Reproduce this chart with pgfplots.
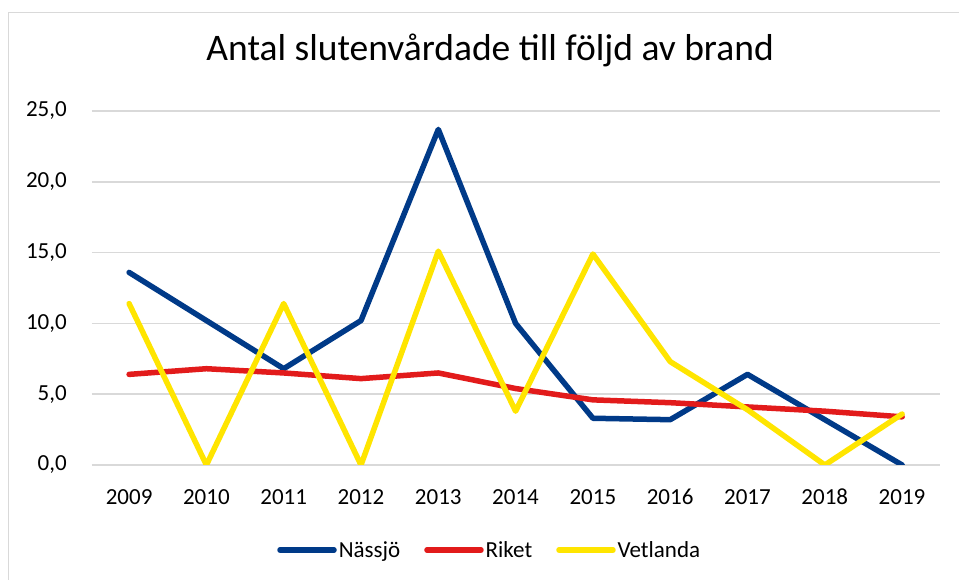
\documentclass[border=0pt]{standalone}
\usepackage{pgfplots}
\pgfplotsset{compat=1.18}
\usepackage{fontspec}
\setmainfont{Carlito}
\definecolor{nassjo}{HTML}{003A88}
\definecolor{riket}{HTML}{E21B1B}
\definecolor{vetl}{HTML}{FFE500}
\definecolor{gridc}{HTML}{D9D9D9}
\begin{document}
\begin{tikzpicture}[x=1pt,y=1pt]
\useasboundingbox (0,0) rectangle (959,580);
\fill[white] (0,0) rectangle (959,580);
\draw[color=gridc, line width=1.5pt] (8.5,0) -- (8.5,567.5) -- (959,567.5);
\begin{axis}[
  at={(92pt,115pt)}, anchor=south west, scale only axis,
  width=848pt, height=354pt,
  xmin=2008.52, xmax=2019.49, ymin=0, ymax=25,
  axis line style={draw=none},
  major tick length=0pt,
  ymajorgrids, grid style={gridc, line width=1.5pt},
  xtick={2009,...,2019},
  ytick={0,5,10,15,20,25},
  xticklabel style={anchor=base, inner sep=0pt, yshift=-40pt, font=\fontsize{23}{27}\selectfont, /pgf/number format/set thousands separator={}},
  yticklabel style={anchor=east, inner sep=0pt, xshift=-25pt, font=\fontsize{23}{27}\selectfont, /pgf/number format/.cd, fixed, fixed zerofill, precision=1, use comma},
  /pgf/number format/assume math mode=true,
  title={Antal slutenvårdade till följd av brand},
  title style={font=\fontsize{37.5}{44}\selectfont, at={(0.4695,1.125)}, anchor=base},
  legend style={at={(0.469,-0.24)}, anchor=center, draw=none, fill=none, legend columns=3,
    font=\fontsize{23}{27}\selectfont,
    /tikz/every even column/.append style={column sep=22pt}},
  legend image code/.code={\draw[#1, line width=5.5pt, line cap=round] (0pt,0pt) -- (54pt,0pt);},
  every axis plot/.append style={line width=5.5pt, line join=round, line cap=round},
]
\addplot[nassjo] coordinates {(2009,13.6) (2010,10.2) (2011,6.8) (2012,10.2) (2013,23.7) (2014,10.0) (2015,3.3) (2016,3.2) (2017,6.4) (2018,3.2) (2019,0.0)};
\addlegendentry{Nässjö}
\addplot[riket] coordinates {(2009,6.4) (2010,6.8) (2011,6.5) (2012,6.1) (2013,6.5) (2014,5.4) (2015,4.6) (2016,4.4) (2017,4.1) (2018,3.8) (2019,3.4)};
\addlegendentry{Riket}
\addplot[vetl] coordinates {(2009,11.4) (2010,0.0) (2011,11.4) (2012,0.0) (2013,15.1) (2014,3.8) (2015,14.9) (2016,7.3) (2017,3.9) (2018,0.0) (2019,3.6)};
\addlegendentry{Vetlanda}
\end{axis}
\end{tikzpicture}
\end{document}
